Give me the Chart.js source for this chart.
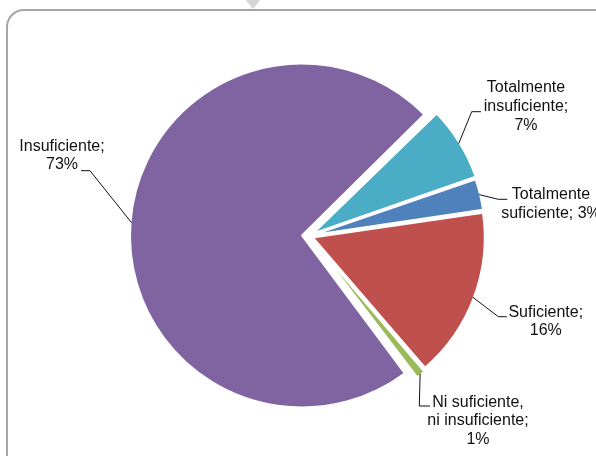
<!DOCTYPE html>
<html>
<head>
<meta charset="utf-8">
<script src="https://cdn.jsdelivr.net/npm/chart.js@4.4.1/dist/chart.umd.min.js"></script>
<style>
  html, body { margin: 0; padding: 0; background: #fff; overflow: hidden; width: 596px; height: 456px; }
  #wrap { position: relative; width: 596px; height: 456px; overflow: hidden; }
  #frame {
    position: absolute; left: 6px; top: 9px; width: 622px; height: 470px;
    border: 2px solid #a6a6a6; border-radius: 18px; box-sizing: border-box;
  }
  #pointer {
    position: absolute; left: 245px; top: -1px; width: 0; height: 0;
    border-left: 8.5px solid transparent; border-right: 8.5px solid transparent;
    border-top: 10px solid #d6d6d6; filter: blur(0.6px);
  }
  canvas { position: absolute; left: 0; top: 0; }
</style>
</head>
<body>
<div id="wrap">
  <div id="frame"></div>
  <div id="pointer"></div>
  <canvas id="c" width="596" height="456"></canvas>
</div>
<script>
// Survey answers and their share (%)
const categories = [
  'Totalmente insuficiente',
  'Totalmente suficiente',
  'Suficiente',
  'Ni suficiente, ni insuficiente',
  'Insuficiente'
];
const values = [7, 3, 16, 1, 73];

// Slice styling
const sliceColors = ['#4BACC6', '#4F81BD', '#C0504D', '#9BBB59', '#8064A2'];
const sliceExplode = [20, 16, 16, 24, 28];
const RADIUS = 172;

// Data label placement, relative to the pie centre:
// text centre / first baseline, leader elbow, end of the short horizontal tick
const labelSpots = [
  { tx: 217,   ty: -143.7, ex: 162.7, ey: -124.3, hx: 172 },
  { tx: 242,   ty: -36.7,  ex: 189.3, ey: -36.7,  hx: 198.3 },
  { tx: 236.8, ty: 80.7,   ex: 189.3, ey: 80.7,   hx: 197.7 },
  { tx: 169,   ty: 170.7,  ex: 110.3, ey: 170,    hx: 121 },
  { tx: -247,  ty: -85.3,  ex: -219,  ey: -65.3,  hx: -228 }
];
const LABEL_FONT = '16px "Liberation Sans", Arial, sans-serif';
const LINE_H = 18.7;
const WRAP_W = 104;

function wrapText(ctx, text, maxW) {
  const words = text.split(' ');
  const lines = [];
  let cur = '';
  words.forEach(w => {
    const test = cur ? cur + ' ' + w : w;
    if (cur && ctx.measureText(test).width > maxW) {
      lines.push(cur);
      cur = w;
    } else {
      cur = test;
    }
  });
  if (cur) lines.push(cur);
  return lines;
}

// Keep every slice at the same drawn radius, whatever its explode distance
const evenRadius = {
  id: 'evenRadius',
  afterDatasetUpdate(chart, args) {
    args.meta.data.forEach((arc, i) => {
      const t = sliceExplode[i] / 4;
      const fix = 1 - Math.sin(Math.min(Math.PI, arc.circumference));
      arc.outerRadius = RADIUS - t * fix;
    });
  }
};

// Outside labels "Categoría; NN%" with leader lines
const outsideLabels = {
  id: 'outsideLabels',
  afterDatasetsDraw(chart) {
    const ctx = chart.ctx;
    const meta = chart.getDatasetMeta(0);
    ctx.save();
    ctx.font = LABEL_FONT;
    ctx.fillStyle = '#111';
    ctx.strokeStyle = '#111';
    ctx.lineWidth = 1;
    ctx.textAlign = 'center';
    ctx.textBaseline = 'alphabetic';
    meta.data.forEach((arc, i) => {
      const spot = labelSpots[i];
      const cx = arc.x, cy = arc.y;
      const mid = (arc.startAngle + arc.endAngle) / 2;
      const t = sliceExplode[i] / 4;
      const sx = cx + Math.cos(mid) * (t + RADIUS - 1);
      const sy = cy + Math.sin(mid) * (t + RADIUS - 1);
      ctx.beginPath();
      ctx.moveTo(sx, sy);
      ctx.lineTo(cx + spot.ex, cy + spot.ey);
      ctx.lineTo(cx + spot.hx, cy + spot.ey);
      ctx.stroke();
      const text = categories[i] + '; ' + values[i] + '%';
      const lines = wrapText(ctx, text, WRAP_W);
      lines.forEach((ln, k) => {
        ctx.fillText(ln, cx + spot.tx, cy + spot.ty + k * LINE_H);
      });
    });
    ctx.restore();
  }
};

new Chart(document.getElementById('c').getContext('2d'), {
  type: 'pie',
  data: {
    labels: categories,
    datasets: [{
      data: values,
      backgroundColor: sliceColors,
      borderColor: '#ffffff',
      borderWidth: 2,
      offset: sliceExplode
    }]
  },
  options: {
    responsive: false,
    animation: false,
    events: [],
    rotation: 45.7,
    radius: RADIUS,
    layout: { padding: { left: 109, top: 36, right: 87, bottom: 20 } },
    plugins: {
      legend: { display: false },
      tooltip: { enabled: false }
    }
  },
  plugins: [evenRadius, outsideLabels]
});
</script>
</body>
</html>
